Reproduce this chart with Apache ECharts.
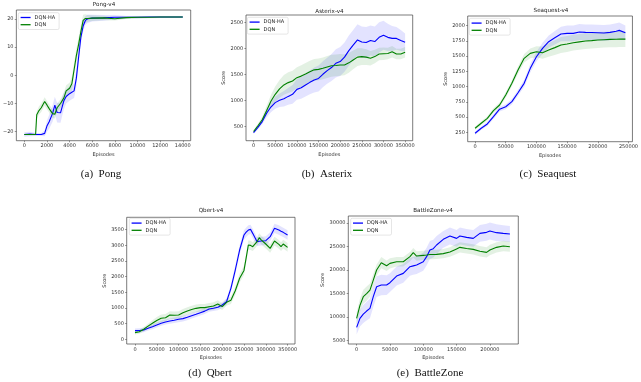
<!DOCTYPE html>
<html>
<head>
<meta charset="utf-8">
<script src="https://cdn.jsdelivr.net/npm/echarts@6/dist/echarts.min.js"></script>
<style>
html,body{margin:0;padding:0;background:#fff;}
#c{width:641px;height:382px;}
</style>
</head>
<body>
<div id="c"></div>
<script>
// ---------- Data ----------
const pongX = [0,500,1000,1100,1300,1500,1800,2000,2200,2500,2700,2900,3200,3500,3700,4000,4200,4400,4600,4800,5000,5200,5400,5600,6000,7000,8000,9000,10000,11000,12000,13000,14000];
const pongHA = [-21,-20.8,-21,-21,-21,-21,-20.6,-18,-16.5,-13.5,-10.6,-13.2,-13.3,-9,-7.5,-6.5,-6,-5.5,-1,6.5,13.6,17.5,19.5,20.1,20.3,20.4,20.6,20.6,20.6,20.7,20.7,20.7,20.7];
const pongDQN = [-21,-21,-21,-14,-12.5,-11.5,-9.3,-10.5,-11.8,-13.6,-13.8,-11.5,-10,-8,-5.5,-4.6,-3,2,7,11,15.5,19.5,20.2,20.2,20.3,20.4,20.1,20.5,20.6,20.6,20.7,20.7,20.7];
const pongHAStd = [0.8,0.8,0.5,0.5,0.5,0.5,1,2,2.5,3,3,3.5,3.5,3,2.5,2.5,2.5,2.5,3,3,2.5,2,1.5,1.5,1.2,1,0.8,0.5,0.4,0.3,0.3,0.3,0.3];
const pongDQNStd = [0.3,0.3,0.3,1.2,1.5,1.5,1.5,1.5,1.5,1.5,1.5,1.5,1.5,2,2,2,2.5,2.5,2.5,2.5,2.5,2,1.5,1.2,1,0.8,0.6,0.5,0.4,0.3,0.3,0.3,0.3];
const pongXTicks = [0,2000,4000,6000,8000,10000,12000,14000];
const pongYTicks = [-20,-10,0,10,20];

const asterixX = [0,10000,20000,30000,40000,50000,60000,70000,80000,90000,100000,110000,120000,130000,140000,150000,160000,170000,180000,190000,200000,210000,220000,230000,240000,250000,260000,270000,280000,290000,300000,310000,320000,330000,340000,350000];
const asterixHA = [380,480,590,750,870,955,1000,1030,1075,1115,1210,1240,1295,1345,1390,1420,1500,1570,1630,1710,1745,1830,1955,2060,2160,2120,2110,2150,2130,2210,2250,2210,2190,2190,2150,2115];
const asterixDQN = [400,510,625,800,980,1115,1220,1295,1340,1370,1435,1465,1505,1550,1585,1595,1615,1640,1665,1670,1680,1680,1720,1775,1830,1840,1830,1810,1840,1890,1895,1900,1935,1890,1890,1925];
const asterixHAStd = [30,40,50,80,100,120,130,150,160,180,200,210,220,230,240,250,250,250,260,270,280,280,290,290,300,300,300,290,290,290,280,260,240,220,200,170];
const asterixDQNStd = [30,40,60,90,120,150,170,190,200,200,200,210,210,210,210,210,210,210,210,210,210,200,190,180,170,160,150,140,130,120,120,110,110,100,100,100];
const asterixXTicks = [0,50000,100000,150000,200000,250000,300000,350000];
const asterixYTicks = [500,1000,1500,2000,2500];

const seaquestX = [0,10000,20000,30000,40000,50000,60000,70000,80000,90000,100000,110000,120000,130000,140000,150000,160000,170000,180000,190000,200000,210000,220000,230000,235000,245000];
const seaquestHA = [234,316,387,507,630,670,753,900,1054,1300,1491,1628,1737,1803,1863,1874,1874,1896,1890,1888,1885,1880,1890,1910,1923,1885];
const seaquestDQN = [316,398,480,605,698,862,1054,1272,1464,1546,1573,1557,1600,1640,1683,1700,1721,1735,1748,1755,1765,1770,1775,1778,1780,1780];
const seaquestHAStd = [30,30,35,40,40,40,45,50,60,70,80,90,100,110,120,130,130,130,130,130,130,130,130,130,130,120];
const seaquestDQNStd = [30,30,35,40,40,45,50,60,70,80,90,100,110,120,130,130,130,130,130,130,130,130,130,130,130,130];
const seaquestXTicks = [0,50000,100000,150000,200000,250000];
const seaquestYTicks = [250,500,750,1000,1250,1500,1750,2000];

const qbertX = [0,10000,20000,30000,40000,50000,60000,70000,80000,90000,100000,110000,120000,130000,140000,150000,160000,170000,180000,190000,200000,210000,220000,230000,240000,250000,255000,260000,265000,270000,280000,285000,290000,300000,310000,320000,330000,335000,340000,350000];
const qbertHA = [277,280,298,350,404,460,511,550,585,610,638,660,702,755,800,851,900,968,990,1021,1096,1200,1628,2213,2851,3330,3420,3489,3511,3383,3117,3130,3138,3149,3277,3543,3489,3450,3415,3330];
const qbertDQN = [213,240,319,420,511,600,670,690,777,770,777,850,904,950,989,1011,1011,1040,1064,1128,1043,1180,1250,1550,1950,2200,2600,3011,3000,2957,3117,3245,3170,3043,2904,3138,3032,2957,3043,2936];
const qbertHAStd = [70,70,70,70,80,80,80,80,90,90,90,90,90,90,90,90,90,90,90,90,90,100,120,140,150,150,150,150,150,150,140,140,140,140,140,150,150,150,150,150];
const qbertDQNStd = [60,60,70,80,100,110,120,120,120,120,120,120,120,120,120,120,120,120,120,120,110,110,120,130,140,150,150,150,150,140,140,140,140,140,140,140,140,140,140,140];
const qbertXTicks = [0,50000,100000,150000,200000,250000,300000,350000];
const qbertYTicks = [0,500,1000,1500,2000,2500,3000,3500];

const bzX = [0,5000,10000,15000,20000,25000,30000,37000,45000,50000,60000,70000,80000,85000,90000,100000,105000,110000,115000,120000,130000,140000,150000,155000,165000,175000,185000,195000,200000,210000,220000,230000];
const bzHA = [7830,9740,10660,11300,11870,14350,16470,16830,16830,17320,18740,19300,20720,20900,21080,21780,22850,24260,24550,25330,26530,27240,26740,27240,26950,26740,27800,28020,28300,27950,27800,27660];
const bzDQN = [9740,12500,14350,15000,15760,17880,20010,21570,20930,21430,21780,21780,22850,23700,22990,23130,23200,23300,23300,23340,23500,23840,24500,24830,24600,24400,24000,23770,24260,24830,25120,24970];
const bzHAStd = [1500,1700,1900,2000,2100,2200,2200,2200,2100,2000,2000,2000,1900,1900,1900,1900,1900,1900,1900,1900,1800,1800,1800,1800,1800,1800,1800,1800,1800,1800,1700,1700];
const bzDQNStd = [1300,1400,1500,1500,1400,1300,1200,1200,1100,1100,1000,1000,1000,1000,1000,1000,1000,1000,1000,1000,1000,1000,1100,1100,1100,1100,1100,1100,1100,1100,1100,1100];
const bzXTicks = [0,50000,100000,150000,200000];
const bzYTicks = [5000,10000,15000,20000,25000,30000];

const seriesNames = ['DQN-HA','DQN'];
const titles = ['Pong-v4','Asterix-v4','Seaquest-v4','Qbert-v4','BattleZone-v4'];
const captions = ['(a)  Pong','(b)  Asterix','(c)  Seaquest','(d)  Qbert','(e)  BattleZone'];

// ---------- Layout ----------
const BLUE = '#0000ff', GREEN = '#008000';
const panels = [
  {x:pongX, ha:pongHA, dqn:pongDQN, haS:pongHAStd, dqnS:pongDQNStd, xt:pongXTicks, yt:pongYTicks,
   grid:{left:16, top:10, width:174.7, height:130.7}, xr:[-700,14700], yr:[-23.2,23.2], yName:'',
   title:[104,5], cap:[101,174], leg:[18.3,12.7]},
  {x:asterixX, ha:asterixHA, dqn:asterixDQN, haS:asterixHAStd, dqnS:asterixDQNStd, xt:asterixXTicks, yt:asterixYTicks,
   grid:{left:246, top:15, width:166.7, height:125.7}, xr:[-17500,367500], yr:[223,2640], yName:'Score',
   title:[329.5,11.5], cap:[327,174], leg:[247.3,17.3]},
  {x:seaquestX, ha:seaquestHA, dqn:seaquestDQN, haS:seaquestHAStd, dqnS:seaquestDQNStd, xt:seaquestXTicks, yt:seaquestYTicks,
   grid:{left:467.7, top:16, width:166.3, height:125.7}, xr:[-12000,256500], yr:[96,2159], yName:'Score',
   title:[551,11], cap:[548,174], leg:[469.3,18.3]},
  {x:qbertX, ha:qbertHA, dqn:qbertDQN, haS:qbertHAStd, dqnS:qbertDQNStd, xt:qbertXTicks, yt:qbertYTicks,
   grid:{left:126.7, top:217.3, width:168.3, height:126.7}, xr:[-19000,367000], yr:[-150,3896], yName:'Score',
   title:[211,211], cap:[210,373], leg:[129.3,218.3]},
  {x:bzX, ha:bzHA, dqn:bzDQN, haS:bzHAStd, dqnS:bzDQNStd, xt:bzXTicks, yt:bzYTicks,
   grid:{left:348.3, top:216, width:170, height:128}, xr:[-12500,242600], yr:[4300,31490], yName:'Score',
   title:[433,211], cap:[430,373], leg:[350.7,218.3]}
];

const AX = '#333';
const fmt = v => String(v).replace('-', '\u2212');
const grids = [], xAxes = [], yAxes = [], series = [], legends = [], graphics = [];

panels.forEach((p, i) => {
  grids.push(Object.assign({show:true, borderColor:'#444', borderWidth:0.7, backgroundColor:'transparent'}, p.grid));
  xAxes.push({
    type:'value', gridIndex:i, min:p.xr[0], max:p.xr[1], position:'bottom',
    axisLine:{show:false, onZero:false}, splitLine:{show:false},
    axisTick:{show:true, customValues:p.xt, length:1.6, lineStyle:{color:AX, width:0.5}},
    axisLabel:{show:true, customValues:p.xt, fontSize:5, color:'#333', margin:2.8, fontFamily:'DejaVu Sans', formatter:fmt},
    name:'Episodes', nameLocation:'middle', nameGap:11.5,
    nameTextStyle:{fontSize:5, color:'#333', fontFamily:'DejaVu Sans'}
  });
  yAxes.push({
    type:'value', gridIndex:i, min:p.yr[0], max:p.yr[1], position:'left',
    axisLine:{show:false, onZero:false}, splitLine:{show:false},
    axisTick:{show:true, customValues:p.yt, length:1.6, lineStyle:{color:AX, width:0.5}},
    axisLabel:{show:true, customValues:p.yt, fontSize:5, color:'#333', margin:2.8, fontFamily:'DejaVu Sans', formatter:fmt},
    name:p.yName, nameLocation:'middle', nameGap:19, nameRotate:90,
    nameTextStyle:{fontSize:5, color:'#333', fontFamily:'DejaVu Sans'}
  });

  // shaded band (mean ± std) drawn as one polygon through the axis scales
  const addBand = (vals, std, color, key) => {
    const lo = p.x.map((x,k)=>[x, vals[k]-std[k]]);
    const hi = p.x.map((x,k)=>[x, vals[k]+std[k]]);
    series.push({
      name:key+'-band', type:'custom', xAxisIndex:i, yAxisIndex:i, silent:true, z:1,
      data:[[p.x[0], vals[0]]], clip:true,
      renderItem:(params, api) => {
        const pts = hi.map(d=>api.coord(d)).concat(lo.slice().reverse().map(d=>api.coord(d)));
        return {type:'polygon', shape:{points:pts}, style:{fill:color, stroke:null}};
      }
    });
  };
  addBand(p.ha, p.haS, 'rgba(0,0,255,0.11)', 'ha');
  addBand(p.dqn, p.dqnS, 'rgba(0,128,0,0.11)', 'dqn');

  series.push({
    name:seriesNames[0], type:'line', xAxisIndex:i, yAxisIndex:i, color:BLUE,
    data:p.x.map((x,k)=>[x, p.ha[k]]), symbol:'none', lineStyle:{color:BLUE, width:1.1}, z:3, animation:false
  });
  series.push({
    name:seriesNames[1], type:'line', xAxisIndex:i, yAxisIndex:i, color:GREEN,
    data:p.x.map((x,k)=>[x, p.dqn[k]]), symbol:'none', lineStyle:{color:GREEN, width:1.1}, z:4, animation:false
  });

  legends.push({
    data:seriesNames, orient:'vertical', left:p.leg[0], top:p.leg[1],
    icon:'rect', itemWidth:10, itemHeight:1.3, itemGap:2.2,
    textStyle:{fontSize:5, color:'#222', fontFamily:'DejaVu Sans', padding:[0,0,0,-1]},
    padding:[2.3,4,2.3,2.3], borderColor:'#ccc', borderWidth:0.5, borderRadius:1.5,
    backgroundColor:'rgba(255,255,255,0.8)', selectedMode:false
  });

  graphics.push({
    type:'text', x:p.title[0], y:p.title[1], silent:true,
    style:{text:titles[i], fontSize:5.6, fontFamily:'DejaVu Sans', fill:'#222',
           align:'center', verticalAlign:'middle', textAlign:'center', textVerticalAlign:'middle'}
  });
  graphics.push({
    type:'text', x:p.cap[0], y:p.cap[1], silent:true,
    style:{text:captions[i], fontSize:11, fontFamily:'Liberation Serif', fill:'#111',
           align:'center', verticalAlign:'middle', textAlign:'center', textVerticalAlign:'middle'}
  });
});

const chart = echarts.init(document.getElementById('c'), null, {renderer:'canvas'});
chart.setOption({
  animation:false,
  backgroundColor:'#fff',
  grid:grids, xAxis:xAxes, yAxis:yAxes, series:series, legend:legends,
  graphic:graphics
});
</script>
</body>
</html>
